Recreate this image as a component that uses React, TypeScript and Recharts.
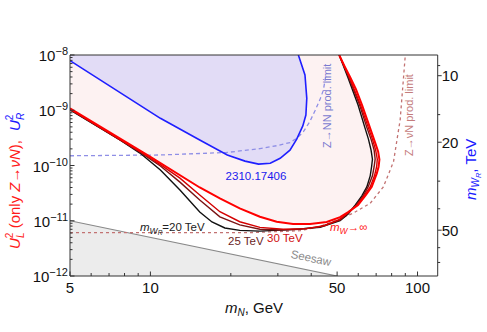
import React from "react";
import { ComposedChart, Line, Area, XAxis, YAxis, ReferenceLine } from "recharts";

// values: [m_N in GeV, U^2]
const curveInf = [
  [5, 1.08e-9], [10, 1.43e-10], [15.3, 4.0e-11], [18.2, 2.55e-11], [21.6, 1.68e-11],
  [25.7, 1.18e-11], [29.7, 9.6e-12], [34.2, 8.7e-12], [39.6, 8.7e-12], [45.7, 9.5e-12],
  [51.3, 1.16e-11], [55, 1.43e-11], [59.9, 1.93e-11], [64, 2.9e-11], [67.4, 4.1e-11],
  [70.4, 7.2e-11], [71.5, 9.5e-11], [72, 1.28e-10], [71.2, 1.8e-10], [69.4, 2.6e-10],
  [66.2, 5.0e-10], [62.0, 1.24e-9], [58.8, 2.4e-9], [55.9, 4.0e-9], [53.3, 6.3e-9], [50.9, 1e-8],
];
const curve30 = [
  [5, 1.05e-9], [7.69, 2.95e-10], [9.14, 1.79e-10], [10.9, 1.04e-10], [12.9, 5.9e-11],
  [15.3, 2.92e-11], [18.2, 1.46e-11], [21.6, 9.6e-12], [25.7, 7.6e-12], [31.4, 7.0e-12],
  [38.5, 7.2e-12], [45.1, 8.2e-12], [51.3, 1.07e-11], [55, 1.4e-11], [59.4, 1.93e-11],
  [63, 2.8e-11], [66.5, 4.1e-11], [69, 6.5e-11], [70.3, 9.5e-11], [70.7, 1.3e-10],
  [69.7, 1.9e-10], [67.8, 3.0e-10], [65.3, 5.0e-10], [61.2, 1.24e-9], [55.5, 4.0e-9], [50.9, 1e-8],
];
const curve25 = [
  [5, 1.03e-9], [7.69, 2.92e-10], [9.14, 1.75e-10], [10.9, 9.8e-11], [12.9, 5.0e-11],
  [15.3, 2.38e-11], [18.2, 1.18e-11], [21.6, 8.4e-12], [25.7, 7.0e-12], [30.6, 6.8e-12],
  [36.3, 7.0e-12], [43.2, 7.8e-12], [51.3, 1.03e-11], [55, 1.38e-11], [59, 1.93e-11],
  [62.5, 2.8e-11], [65.3, 4.1e-11], [67.8, 6.5e-11], [68.8, 9.5e-11], [69.4, 1.3e-10],
  [68.8, 1.9e-10], [67, 3.0e-10], [64.5, 5.0e-10], [60.7, 1.24e-9], [55.2, 4.0e-9], [50.9, 1e-8],
];
const curve20 = [
  [5, 1.01e-9], [7.69, 2.9e-10], [9.14, 1.68e-10], [10.9, 8.3e-11], [12.9, 3.6e-11],
  [15.3, 1.44e-11], [17.0, 9.5e-12], [19.0, 7.4e-12], [21.6, 6.7e-12], [25.7, 6.5e-12],
  [33.3, 6.9e-12], [43.2, 7.6e-12], [51.3, 1.0e-11], [55, 1.33e-11], [58.5, 1.93e-11],
  [61.8, 2.8e-11], [64.6, 4.1e-11], [66.5, 6.5e-11], [67.3, 9.5e-11], [67.8, 1.3e-10],
  [67.0, 1.9e-10], [65.5, 3.0e-10], [63.4, 5.0e-10], [59.9, 1.24e-9], [54.8, 4.0e-9], [50.9, 1e-8],
];
const bound2310 = [
  [5, 7.9e-9], [10.9, 7.15e-10], [15.3, 2.9e-10], [19.4, 1.55e-10], [22.6, 1.2e-10],
  [25.4, 1.06e-10], [28.1, 1.1e-10], [30.6, 1.35e-10], [33.3, 1.9e-10], [35.3, 3.0e-10],
  [37.2, 5.2e-10], [38.2, 8.2e-10], [38.5, 1.64e-9], [37.9, 4.35e-9], [35.8, 1e-8],
];
const zNNLimit = [
  [5, 1.5e-10], [10.9, 1.55e-10], [19.3, 1.72e-10], [25.7, 2.02e-10], [30, 2.3e-10],
  [33.3, 2.6e-10], [35.6, 3.2e-10], [37.4, 4.1e-10], [39.5, 6.2e-10], [41.4, 1.0e-9],
  [43.2, 1.6e-9], [44.4, 2.3e-9], [45.4, 4.3e-9],
];
const zNuNLimit = [
  [5, 6.1e-12], [23.6, 6.1e-12], [36.3, 6.6e-12], [43.2, 7.9e-12], [49.9, 1.03e-11],
  [57.4, 1.37e-11], [66.5, 2.07e-11], [74.5, 4.1e-11], [81.3, 1.17e-10], [86.1, 6.7e-10],
  [89.9, 9.3e-9],
];
const seesaw = [[5, 1e-11], [50, 1e-12]];

const xTicks = [5, 6, 7, 8, 9, 10, 20, 30, 40, 50, 60, 70, 80, 90, 100];
const xTickLabels = [5, 10, 50, 100];
const yExponents = [-12, -11, -10, -9, -8];
const rightTicks = [9, 10, 15, 20, 30, 40, 50, 60, 70];
const rightTickLabels = [10, 20, 50];
// m_WR (TeV) at top and bottom of the frame, m_WR ~ U^-1/4
const mWRTop = 8.06;
const mWRBottom = 80.6;

const toPts = (a: number[][]) => a.map(([x, y]) => ({ x, y }));

const yTicks: number[] = [];
yExponents.forEach((e, i) => {
  if (i === yExponents.length - 1) yTicks.push(Number(`1e${e}`));
  else for (let k = 1; k <= 9; k++) yTicks.push(Number(`${k}e${e}`));
});

const FONT = "'Liberation Sans', Arial, sans-serif";
const AX = "#333";

function XTick({ x, y, payload }: any) {
  const v = payload.value;
  const major = xTickLabels.includes(v);
  return (
    <g>
      <line x1={x} x2={x} y1={y} y2={y - (major ? 4.5 : 3)} stroke={AX} />
      {major && (
        <text x={x} y={y + 17} textAnchor="middle" fontSize={15} fill="#111" fontFamily={FONT}>
          {v}
        </text>
      )}
    </g>
  );
}

function LeftTick({ x, y, payload }: any) {
  const v = payload.value;
  const e = Math.round(Math.log10(v));
  const major = Math.abs(v / Math.pow(10, e) - 1) < 1e-6;
  return (
    <g>
      <line x1={x} x2={x + (major ? 4.5 : 2.5)} y1={y} y2={y} stroke={AX} />
      {major && (
        <text x={x - 2} y={y + 6} textAnchor="end" fontSize={15} fill="#111" fontFamily={FONT}>
          10
          <tspan dy={-6} fontSize={11}>
            {"\u2212" + Math.abs(e)}
          </tspan>
        </text>
      )}
    </g>
  );
}

function RightTick({ x, y, payload }: any) {
  const v = payload.value;
  const major = rightTickLabels.includes(v);
  return (
    <g>
      <line x1={x} x2={x + (major ? 4 : 2.5)} y1={y} y2={y} stroke={AX} />
      {major && (
        <text x={x + 4} y={y + 5.5} textAnchor="start" fontSize={15} fill="#111" fontFamily={FONT}>
          {v}
        </text>
      )}
    </g>
  );
}

function Annotations() {
  return (
    <svg
      width={487}
      height={332}
      style={{ position: "absolute", left: 0, top: 0, pointerEvents: "none" }}
      fontFamily={FONT}
    >
      {/* axis titles */}
      <text x={254} y={313} textAnchor="middle" fontSize={15} fill="#111">
        <tspan fontStyle="italic">m</tspan>
        <tspan fontStyle="italic" fontSize={10} dy={3}>N</tspan>
        <tspan dy={-3}>, GeV</tspan>
      </text>
      <text transform="rotate(-90)" x={-249} y={20} fontSize={15} fill="#ff1a1a">
        <tspan fontStyle="italic">U</tspan>
        <tspan fontSize={10} dy={-7}>2</tspan>
        <tspan fontStyle="italic" fontSize={10} dx={-5.5} dy={11}>L</tspan>
        <tspan dy={-4}> (only </tspan>
        <tspan fontStyle="italic">Z</tspan>
        <tspan>{"\u2192"}</tspan>
        <tspan fontStyle="italic">{"\u03bdN"}</tspan>
        <tspan>),</tspan>
        <tspan fill="#1a1aff" dx={9} fontStyle="italic">U</tspan>
        <tspan fill="#1a1aff" fontSize={10} dy={-7}>2</tspan>
        <tspan fill="#1a1aff" fontStyle="italic" fontSize={10} dx={-5.5} dy={11}>R</tspan>
      </text>
      <text transform="rotate(-90)" x={-200} y={476} fontSize={15} fill="#1a1aff">
        <tspan fontStyle="italic">m</tspan>
        <tspan fontStyle="italic" fontSize={10} dy={3}>W</tspan>
        <tspan fontStyle="italic" fontSize={7.5} dy={2}>R</tspan>
        <tspan dy={-5}>, TeV</tspan>
      </text>

      {/* in-plot labels */}
      <text transform="rotate(-90)" x={-148} y={331} fontSize={11} fill="#7b7bd0">
        Z{"\u2192"}NN prod. limit
      </text>
      <text transform="rotate(-90)" x={-156} y={413} fontSize={11} fill="#c47c7c">
        Z{"\u2192\u03bd"}N prod. limit
      </text>
      <text x={256} y={180} textAnchor="middle" fontSize={11.5} fill="#1a1aee">
        2310.17406
      </text>
      <text x={140} y={231} fontSize={11.5} fill="#222">
        <tspan fontStyle="italic">m</tspan>
        <tspan fontStyle="italic" fontSize={8.5} dy={2.5}>W</tspan>
        <tspan fontStyle="italic" fontSize={6.5} dy={1.5}>R</tspan>
        <tspan dy={-4}>=20 TeV</tspan>
      </text>
      <text x={228} y={245} fontSize={11.5} fill="#6b1f1f">
        25 TeV
      </text>
      <text x={267} y={242} fontSize={11.5} fill="#d01010">
        30 TeV
      </text>
      <text x={330} y={231} fontSize={11.5} fill="#ff2020">
        <tspan fontStyle="italic">m</tspan>
        <tspan fontStyle="italic" fontSize={8.5} dy={2.5}>W</tspan>
        <tspan dy={-2.5}>{"\u2192\u221e"}</tspan>
      </text>
      <text
        x={311}
        y={262}
        textAnchor="middle"
        fontSize={11.5}
        fill="#8a8a8a"
        transform="rotate(11.7 311 258)"
      >
        Seesaw
      </text>
    </svg>
  );
}

export default function App() {
  return (
    <div style={{ position: "absolute", left: 0, top: 0, width: 487, height: 332, background: "#fff" }}>
      <ComposedChart width={487} height={332} margin={{ top: 55, right: 0, bottom: 0, left: 0 }}>
        <XAxis
          dataKey="x"
          type="number"
          scale="log"
          domain={[5, 119]}
          allowDataOverflow
          ticks={xTicks}
          interval={0}
          height={56}
          tickSize={0}
          tickMargin={0}
          tickLine={false}
          axisLine={{ stroke: AX }}
          tick={(p: any) => <XTick {...p} />}
        />
        <YAxis
          yAxisId="left"
          type="number"
          scale="log"
          domain={[1e-12, 1e-8]}
          allowDataOverflow
          ticks={yTicks}
          interval={0}
          width={70}
          tickSize={0}
          tickMargin={0}
          tickLine={false}
          axisLine={{ stroke: AX }}
          tick={(p: any) => <LeftTick {...p} />}
        />
        <YAxis
          yAxisId="right"
          orientation="right"
          type="number"
          scale="log"
          domain={[mWRTop, mWRBottom]}
          reversed
          allowDataOverflow
          ticks={rightTicks}
          interval={0}
          width={49.3}
          tickSize={0}
          tickMargin={0}
          tickLine={false}
          axisLine={{ stroke: AX }}
          tick={(p: any) => <RightTick {...p} />}
        />

        <Area
          yAxisId="left"
          data={toPts(curveInf)}
          dataKey="y"
          baseValue="dataMax"
          type="linear"
          stroke="none"
          fill="#fdf2f2"
          fillOpacity={1}
          isAnimationActive={false}
        />
        <Area
          yAxisId="left"
          data={toPts(bound2310)}
          dataKey="y"
          baseValue="dataMax"
          type="linear"
          stroke="none"
          fill="#e2dcf6"
          fillOpacity={1}
          isAnimationActive={false}
        />
        <Area
          yAxisId="left"
          data={toPts(seesaw)}
          dataKey="y"
          type="linear"
          stroke="#888"
          strokeWidth={1.2}
          fill="#ececec"
          fillOpacity={1}
          isAnimationActive={false}
        />

        <Line yAxisId="left" data={toPts(zNNLimit)} dataKey="y" type="linear" stroke="#8f8fe6"
          strokeWidth={1.3} strokeDasharray="4 3" dot={false} isAnimationActive={false} />
        <Line yAxisId="left" data={toPts(zNuNLimit)} dataKey="y" type="linear" stroke="#c27272"
          strokeWidth={1.3} strokeDasharray="3 3" dot={false} isAnimationActive={false} />
        <Line yAxisId="left" data={toPts(bound2310)} dataKey="y" type="linear" stroke="#1f1fff"
          strokeWidth={1.6} dot={false} isAnimationActive={false} />

        <Line yAxisId="left" data={toPts(curve20)} dataKey="y" type="linear" stroke="#111"
          strokeWidth={1.4} dot={false} isAnimationActive={false} />
        <Line yAxisId="left" data={toPts(curve25)} dataKey="y" type="linear" stroke="#7a1414"
          strokeWidth={1.4} dot={false} isAnimationActive={false} />
        <Line yAxisId="left" data={toPts(curve30)} dataKey="y" type="linear" stroke="#d40000"
          strokeWidth={1.4} dot={false} isAnimationActive={false} />
        <Line yAxisId="left" data={toPts(curveInf)} dataKey="y" type="linear" stroke="#ff0000"
          strokeWidth={2} dot={false} isAnimationActive={false} />

        <ReferenceLine yAxisId="left" y={1e-8} stroke={AX} />
      </ComposedChart>
      <Annotations />
    </div>
  );
}
